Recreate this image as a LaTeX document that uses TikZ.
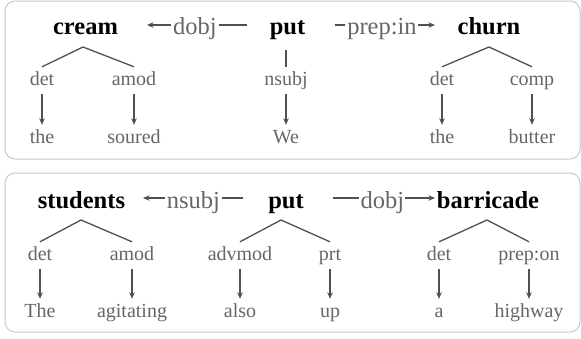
\documentclass[tikz,border=0pt]{standalone}
\usepackage{fontspec}
\setmainfont{Liberation Serif}
\usetikzlibrary{arrows.meta}
\definecolor{txt}{HTML}{666666}
\definecolor{ln}{HTML}{505050}
\definecolor{frame}{HTML}{C8C8C8}
\begin{document}
\begin{tikzpicture}[x=1pt,y=-1pt,
 head/.style={font=\fontsize{24.5}{28}\selectfont\bfseries, anchor=base, inner sep=0pt},
 rel/.style={font=\fontsize{24.5}{28}\selectfont, text=txt, anchor=base, inner sep=0pt},
 lab/.style={font=\fontsize{20}{24}\selectfont, text=txt, anchor=base, text height=14pt, text depth=5pt, inner xsep=0pt, inner ysep=4pt},
 tline/.style={draw=ln, line width=1.3pt},
 arr/.style={draw=ln, line width=1.2pt, -{Stealth[length=6.5pt,width=5.5pt]}},
 panel/.style={draw=frame, line width=1pt, rounded corners=10pt}]
\useasboundingbox (0,0) rectangle (581,338);
% panels
\draw[panel] (5,1) rectangle (580,159);
\draw[panel] (5,173) rectangle (580,332);

% ---------- row 1 ----------
\node[head] (cream) at (85.5,34) {cream};
\node[head] (put1) at (287.5,34) {put};
\node[head] (churn) at (489,34) {churn};
\node[rel] (dobj1) at (195,34) {dobj};
\node[rel] (prepin) at (382,34) {prep:in};
\coordinate (d1tip) at (147,25);
\coordinate (d1start) at (247,25);
\coordinate (p1start) at (335,25);
\coordinate (p1tip) at (435,25);
\draw[tline] (d1start) -- ([xshift=2pt]dobj1.east |- d1start);
\draw[arr] ([xshift=-2pt]dobj1.west |- d1tip) -- (d1tip);
\draw[tline] (p1start) -- ([xshift=-2pt]prepin.west |- p1start);
\draw[arr] ([xshift=1pt]prepin.east |- p1tip) -- (p1tip);

\coordinate (ca) at (83,47);
\node[lab] (det1) at (42,85) {det};
\node[lab] (amod1) at (134,85) {amod};
\node[lab] (the1) at (42,143) {the};
\node[lab] (soured) at (134,143) {soured};
\draw[tline] (det1.north) -- (ca) -- (amod1.north);
\draw[arr] (det1.south) -- (the1.north);
\draw[arr] (amod1.south) -- (soured.north);

\coordinate (pa1) at (286,50);
\node[lab] (nsubj1) at (286,85) {nsubj};
\node[lab] (we) at (286,143) {We};
\draw[tline] (pa1) -- (nsubj1.north);
\draw[arr] (nsubj1.south) -- (we.north);

\coordinate (cha) at (489,47);
\node[lab] (det2) at (442,85) {det};
\node[lab] (comp) at (532,85) {comp};
\node[lab] (the2) at (442,143) {the};
\node[lab] (butter) at (532,143) {butter};
\draw[tline] (det2.north) -- (cha) -- (comp.north);
\draw[arr] (det2.south) -- (the2.north);
\draw[arr] (comp.south) -- (butter.north);

% ---------- row 2 ----------
\node[head] (students) at (81.5,208) {students};
\node[head] (put2) at (286,208) {put};
\node[head] (barricade) at (488,208) {barricade};
\node[rel] (nsubj2) at (193.5,208) {nsubj};
\node[rel] (dobj2) at (382.5,208) {dobj};
\coordinate (n2tip) at (143,198);
\coordinate (n2start) at (243,198);
\coordinate (d2start) at (333,198);
\coordinate (d2tip) at (435,198);
\draw[tline] (n2start) -- ([xshift=2pt]nsubj2.east |- n2start);
\draw[arr] ([xshift=-2pt]nsubj2.west |- n2tip) -- (n2tip);
\draw[tline] (d2start) -- ([xshift=-2pt]dobj2.west |- d2start);
\draw[arr] ([xshift=1pt]dobj2.east |- d2tip) -- (d2tip);

\coordinate (sa) at (81,220);
\node[lab] (det3) at (40,260) {det};
\node[lab] (amod3) at (132,260) {amod};
\node[lab] (The) at (40,317) {The};
\node[lab] (agit) at (132,317) {agitating};
\draw[tline] (det3.north) -- (sa) -- (amod3.north);
\draw[arr] (det3.south) -- (The.north);
\draw[arr] (amod3.south) -- (agit.north);

\coordinate (pa2) at (281,220);
\node[lab] (advmod) at (240,260) {advmod};
\node[lab] (prt) at (330,260) {prt};
\node[lab] (also) at (240,317) {also};
\node[lab] (up) at (330,317) {up};
\draw[tline] (advmod.north) -- (pa2) -- (prt.north);
\draw[arr] (advmod.south) -- (also.north);
\draw[arr] (prt.south) -- (up.north);

\coordinate (ba) at (487,220);
\node[lab] (det4) at (439,260) {det};
\node[lab] (prepon) at (529,260) {prep:on};
\node[lab] (a) at (439,317) {a};
\node[lab] (highway) at (529,317) {highway};
\draw[tline] (det4.north) -- (ba) -- (prepon.north);
\draw[arr] (det4.south) -- (a.north);
\draw[arr] (prepon.south) -- (highway.north);
\end{tikzpicture}
\end{document}
